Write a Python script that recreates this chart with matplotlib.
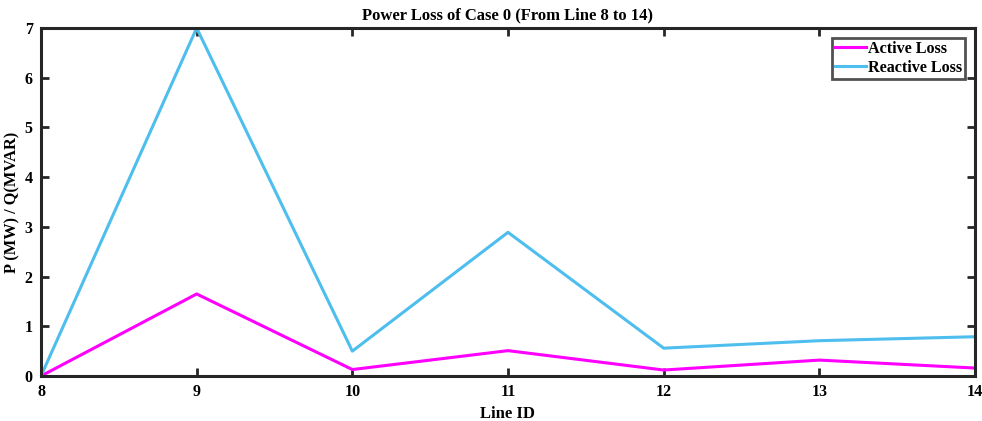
import matplotlib
matplotlib.use('Agg')
import matplotlib.pyplot as plt

line_id = [8, 9, 10, 11, 12, 13, 14]
active_loss = [0.0, 1.65, 0.13, 0.51, 0.12, 0.32, 0.16]
reactive_loss = [0.0, 7.0, 0.50, 2.89, 0.56, 0.71, 0.79]

plt.rcParams['font.family'] = ['Liberation Serif', 'DejaVu Serif']
plt.rcParams['font.weight'] = 'bold'

fig = plt.figure(figsize=(9.82, 4.21), dpi=100)
ax = fig.add_axes([41/982, 1 - 376/421, (975-41)/982, (376-28)/421])

ax.plot(line_id, active_loss, color='#ff00ff', lw=2.2, label='Active Loss')
ax.plot(line_id, reactive_loss, color='#4dbeee', lw=2.2, label='Reactive Loss')

ax.set_xlim(8, 14)
ax.set_ylim(0, 7)
ax.set_xticks(line_id)
ax.set_yticks(range(0, 8))
ax.tick_params(direction='in', length=6, width=2, labelsize=11.5, pad=6,
               top=True, right=True, color='#262626')
for s in ax.spines.values():
    s.set_linewidth(2.2)
    s.set_color('#262626')

ax.set_title('Power Loss of Case 0 (From Line 8 to 14)', fontsize=12, fontweight='bold', pad=6)
ax.set_xlabel('Line ID', fontsize=12, fontweight='bold', labelpad=4)
ax.set_ylabel('P (MW) / Q(MVAR)', fontsize=11.8, fontweight='bold', labelpad=3)

leg = ax.legend(loc='upper right', fontsize=11.6, frameon=True, fancybox=False,
                handlelength=1.9, handletextpad=0.15, borderpad=0.2, labelspacing=0.2,
                borderaxespad=0.6)
leg.get_frame().set_edgecolor('#262626')
leg.get_frame().set_linewidth(2)

plt.savefig('out.png', dpi=100)
